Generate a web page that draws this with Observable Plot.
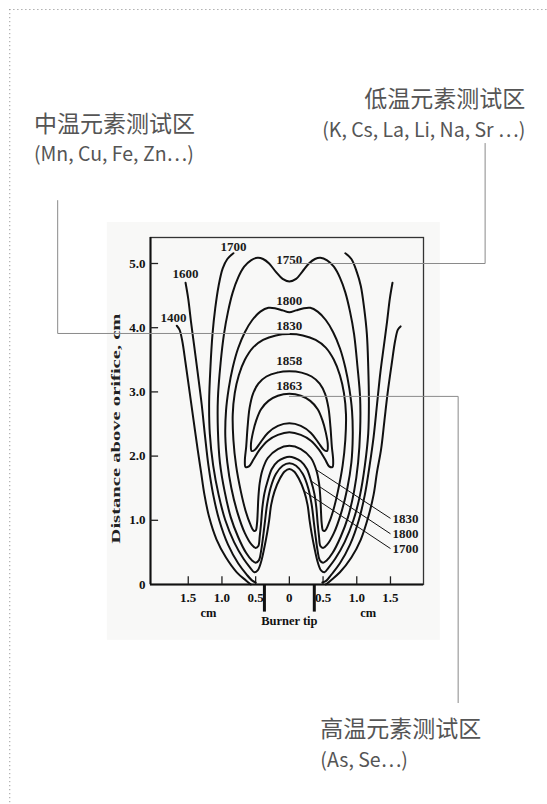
<!DOCTYPE html>
<html><head><meta charset="utf-8">
<script src="https://cdn.jsdelivr.net/npm/d3@7"></script>
<script src="https://cdn.jsdelivr.net/npm/@observablehq/plot@0.6"></script>
<style>
html,body{margin:0;padding:0;background:#fff;}
#chart{position:relative;width:547px;height:804px;overflow:hidden;}
</style></head><body><div id="chart"></div>
<script>
// ---------- DATA (cm; x = horizontal distance from burner axis, y = distance above orifice) ----------
const xTicks = [-1.5, -1, -0.5, 0, 0.5, 1, 1.5];
const xTickLabels = ["1.5", "1.0", "0.5", "0", "0.5", "1.0", "1.5"];
const yTicks = [0, 1, 2, 3, 4, 5];
const yTickLabels = ["0", "1.0", "2.0", "3.0", "4.0", "5.0"];
const burnerTip = [-0.37, 0.37];

// open contours
const c1400L = [[-1.67,4.03],[-1.63,3.97],[-1.59,3.8],[-1.54,3.45],[-1.48,3.0],[-1.42,2.55],[-1.36,2.1],[-1.31,1.75],[-1.26,1.4],[-1.19,1.05],[-1.08,0.7],[-0.94,0.42],[-0.78,0.19],[-0.64,0.06],[-0.57,0.0]];
const c1400R = [[0.54,0.0],[0.61,0.06],[0.75,0.19],[0.92,0.42],[1.06,0.7],[1.17,1.05],[1.25,1.4],[1.3,1.75],[1.36,2.1],[1.41,2.55],[1.46,3.0],[1.52,3.45],[1.57,3.8],[1.61,3.97],[1.65,4.02]];
const c1600L = [[-1.54,4.7],[-1.5,4.45],[-1.46,4.1],[-1.41,3.7],[-1.36,3.3],[-1.3,2.8],[-1.25,2.3],[-1.2,1.85],[-1.13,1.4],[-1.04,1.0],[-0.91,0.62],[-0.76,0.33],[-0.63,0.15],[-0.55,0.06],[-0.5,0.03]];
const c1600R = [[0.49,0.03],[0.55,0.06],[0.62,0.15],[0.75,0.33],[0.9,0.62],[1.03,1.0],[1.12,1.4],[1.19,1.85],[1.25,2.3],[1.3,2.8],[1.35,3.3],[1.4,3.7],[1.45,4.1],[1.49,4.45],[1.53,4.7]];
const c1700 = [[-0.83,5.16],[-0.92,5.07],[-0.99,4.92],[-1.05,4.65],[-1.1,4.3],[-1.14,3.9],[-1.17,3.4],[-1.19,2.85],[-1.18,2.35],[-1.13,1.85],[-1.05,1.4],[-0.95,1.0],[-0.82,0.66],[-0.68,0.4],[-0.58,0.26],[-0.52,0.19],[-0.47,0.22],
  [-0.42,0.35],[-0.37,0.58],[-0.33,0.8],[-0.3,1.0],[-0.27,1.24],[-0.22,1.45],[-0.14,1.65],[-0.07,1.76],[0,1.8],
  [0.07,1.76],[0.14,1.65],[0.22,1.45],[0.27,1.24],[0.3,1.0],[0.33,0.8],[0.37,0.58],[0.42,0.35],[0.47,0.22],[0.52,0.19],
  [0.58,0.26],[0.68,0.4],[0.82,0.66],[0.95,1.0],[1.05,1.4],[1.12,1.85],[1.17,2.35],[1.18,2.85],[1.17,3.4],[1.15,3.9],[1.11,4.3],[1.06,4.65],[1.0,4.87],[0.92,5.07],[0.83,5.16]];

// closed contours
const c1750 = [[0,4.72],[-0.1,4.76],[-0.2,4.87],[-0.3,5.0],[-0.39,5.07],[-0.47,5.09],[-0.57,5.05],[-0.67,4.95],[-0.76,4.78],[-0.84,4.55],[-0.91,4.25],[-0.97,3.9],[-1.02,3.45],[-1.06,2.9],[-1.06,2.4],[-1.03,1.9],[-0.96,1.45],[-0.87,1.05],[-0.76,0.74],[-0.64,0.49],[-0.55,0.37],[-0.5,0.34],[-0.45,0.38],
  [-0.42,0.52],[-0.39,0.74],[-0.36,1.0],[-0.33,1.25],[-0.28,1.5],[-0.2,1.72],[-0.1,1.85],[0,1.89],
  [0.1,1.85],[0.2,1.72],[0.28,1.5],[0.33,1.25],[0.36,1.0],[0.39,0.74],[0.42,0.52],[0.45,0.38],[0.5,0.34],[0.55,0.37],[0.64,0.49],[0.76,0.74],[0.87,1.05],[0.96,1.45],[1.02,1.9],[1.05,2.4],[1.05,2.9],[1.01,3.4],[0.96,3.9],[0.9,4.25],[0.83,4.55],[0.75,4.78],[0.66,4.95],[0.56,5.05],[0.46,5.09],[0.38,5.07],[0.29,5.0],[0.19,4.87],[0.1,4.76]];
const c1800 = [[0,4.24],[-0.1,4.27],[-0.2,4.3],[-0.31,4.31],[-0.43,4.25],[-0.55,4.12],[-0.66,3.93],[-0.76,3.68],[-0.84,3.38],[-0.9,3.05],[-0.94,2.7],[-0.95,2.3],[-0.92,1.9],[-0.86,1.5],[-0.77,1.12],[-0.66,0.8],[-0.56,0.62],[-0.5,0.57],[-0.46,0.6],
  [-0.44,0.75],[-0.42,0.95],[-0.4,1.2],[-0.37,1.42],[-0.32,1.62],[-0.26,1.8],[-0.17,1.92],[-0.08,1.97],[0,1.99],
  [0.08,1.97],[0.17,1.92],[0.26,1.8],[0.32,1.62],[0.37,1.42],[0.4,1.2],[0.42,0.95],[0.44,0.75],[0.46,0.6],[0.5,0.57],[0.56,0.62],[0.66,0.8],[0.77,1.12],[0.86,1.5],[0.92,1.9],[0.94,2.3],[0.93,2.7],[0.89,3.05],[0.83,3.38],[0.75,3.68],[0.65,3.93],[0.54,4.12],[0.42,4.25],[0.31,4.31],[0.2,4.3],[0.1,4.27]];
const c1830 = [[0,3.9],[-0.2,3.88],[-0.39,3.81],[-0.54,3.69],[-0.66,3.5],[-0.75,3.26],[-0.81,2.98],[-0.84,2.65],[-0.83,2.25],[-0.79,1.85],[-0.72,1.45],[-0.65,1.15],[-0.58,0.94],[-0.53,0.84],[-0.5,0.84],
  [-0.48,0.95],[-0.47,1.12],[-0.46,1.35],[-0.44,1.58],[-0.4,1.78],[-0.32,1.97],[-0.17,2.11],[0,2.16],
  [0.17,2.11],[0.32,1.97],[0.4,1.78],[0.44,1.58],[0.46,1.35],[0.47,1.12],[0.48,0.95],[0.5,0.84],[0.53,0.84],[0.58,0.94],[0.65,1.15],[0.72,1.45],[0.79,1.85],[0.83,2.25],[0.84,2.65],[0.81,2.98],[0.75,3.26],[0.66,3.5],[0.54,3.69],[0.39,3.81],[0.2,3.88]];
const c1858 = [[0,3.32],[-0.18,3.3],[-0.34,3.24],[-0.46,3.13],[-0.54,2.97],[-0.59,2.75],[-0.62,2.45],[-0.64,2.15],[-0.66,1.93],[-0.65,1.83],[-0.6,1.84],[-0.53,1.95],[-0.44,2.1],[-0.32,2.24],[-0.17,2.33],[0,2.37],
  [0.17,2.33],[0.32,2.24],[0.44,2.1],[0.53,1.95],[0.59,1.84],[0.64,1.83],[0.65,1.93],[0.63,2.15],[0.61,2.45],[0.58,2.75],[0.53,2.97],[0.45,3.13],[0.33,3.24],[0.18,3.3]];
const c1863 = [[0,2.97],[-0.17,2.94],[-0.31,2.86],[-0.42,2.73],[-0.49,2.56],[-0.54,2.37],[-0.57,2.18],[-0.56,2.08],[-0.51,2.1],[-0.43,2.21],[-0.32,2.36],[-0.17,2.47],[0,2.51],
  [0.17,2.47],[0.32,2.36],[0.43,2.21],[0.51,2.1],[0.56,2.08],[0.57,2.18],[0.54,2.37],[0.49,2.56],[0.42,2.73],[0.31,2.86],[0.17,2.94]];

// contour labels
const topLabels = ["1700", "1600", "1400", "1750", "1800", "1830", "1858", "1863"];
const topLabelX = [-0.83, -1.54, -1.72, 0, 0, 0, 0, 0];
const topLabelY = [5.26, 4.84, 4.16, 5.06, 4.42, 4.03, 3.49, 3.10];
const coneLabels = ["1830", "1800", "1700"];
const coneLabelX = [1.50, 1.50, 1.50];
const coneLabelY = [1.03, 0.79, 0.56];
const conePointX = [0.41, 0.31, 0.21];
const conePointY = [1.78, 1.62, 1.46];

// annotations (Chinese captions)
const zoneTitles = ["中温元素测试区", "低温元素测试区", "高温元素测试区"];
const zoneElements = ["(Mn, Cu, Fe, Zn…)", "(K, Cs, La, Li, Na, Sr …)", "(As, Se…)"];
const zoneTextX = [-3.79, 3.50, 0.46];
const zoneTitleY = [7.16, 7.55, -2.26];
const zoneElemY = [6.69, 7.06, -2.75];
const zoneAnchor = ["start", "end", "start"];
const zoneLeaders = [
  [[-3.437, 5.98], [-3.437, 3.91], [0.0, 3.91]],
  [[2.904, 6.87], [2.904, 5.0], [0.04, 5.0]],
  [[2.504, -1.84], [2.504, 2.93], [0.0, 2.93]]
];

// ---------- BUILD ----------
const openSets = [["1400L", c1400L], ["1400R", c1400R], ["1600L", c1600L], ["1600R", c1600R], ["1700", c1700]];
const closedSets = [["1750", c1750], ["1800", c1800], ["1830", c1830], ["1858", c1858], ["1863", c1863]];
const toRows = sets => sets.flatMap(([id, pts]) => pts.map(([x, y]) => ({id, x, y})));
const openRows = toRows(openSets);
const closedRows = toRows(closedSets);
const xLab = new Map(xTicks.map((d, i) => [d, xTickLabels[i]]));
const yLab = new Map(yTicks.map((d, i) => [d, yTickLabels[i]]));
const xDomain = [-2.06, 1.99];
const yDomain = [0, 5.405];
const topLab = topLabels.map((t, i) => ({t, x: topLabelX[i], y: topLabelY[i]}));
const coneLab = coneLabels.map((t, i) => ({t, x: coneLabelX[i], y: coneLabelY[i], px: conePointX[i], py: conePointY[i]}));
const zones = zoneTitles.map((t, i) => ({t, e: zoneElements[i], x: zoneTextX[i], ty: zoneTitleY[i], ey: zoneElemY[i], a: zoneAnchor[i]}));
const zonesStart = zones.filter(d => d.a === "start");
const zonesEnd = zones.filter(d => d.a === "end");
const leaderRows = zoneLeaders.flatMap((pts, i) => pts.map(([x, y]) => ({id: i, x, y})));
const serif = "Liberation Serif, Times New Roman, serif";
const cjk = "Noto Sans CJK SC, Noto Sans, sans-serif";
const zoneText = (data, anchor) => [
  Plot.text(data, {x: "x", y: "ty", text: "t", textAnchor: anchor, fontSize: 23, fontFamily: cjk, fill: "#555"}),
  Plot.text(data, {x: "x", y: "ey", text: "e", textAnchor: anchor, fontSize: 19.5, fontFamily: cjk, fill: "#555"})
];

const chart = Plot.plot({
  width: 547, height: 804,
  marginLeft: 150, marginRight: 124, marginTop: 237, marginBottom: 220,
  x: {domain: xDomain},
  y: {domain: yDomain},
  style: {background: "transparent", overflow: "visible", color: "#111"},
  marks: [
    // page border (dotted) and scan background
    Plot.ruleY([8.956], {x1: -4.148, x2: 3.83, stroke: "#9a9a9a", strokeDasharray: "1.2,2.8", strokeWidth: 1}),
    Plot.ruleX([-4.148], {y1: 8.956, y2: -7.0, stroke: "#9a9a9a", strokeDasharray: "1.2,2.8", strokeWidth: 1}),
    Plot.rect([0], {x1: -2.70, x2: 2.24, y1: -0.87, y2: 5.64, fill: "#f8f8f7"}),
    Plot.frame({stroke: "#333", strokeWidth: 1.3}),
    Plot.ruleX([xDomain[0]], {stroke: "#111", strokeWidth: 2}),
    Plot.ruleY([0], {stroke: "#111", strokeWidth: 2}),
    // inward ticks
    Plot.ruleX(xTicks, {x: d => d, y1: 0, y2: 0.12, stroke: "#222", strokeWidth: 1.3}),
    Plot.ruleY(yTicks.filter(d => d > 0), {y: d => d, x1: xDomain[0], x2: xDomain[0] + 0.12, stroke: "#222", strokeWidth: 1.3}),
    Plot.axisX({ticks: xTicks, tickSize: 0, tickPadding: 8, tickFormat: d => xLab.get(d), label: null,
      fontSize: 13, fontWeight: "bold", fontFamily: serif}),
    Plot.axisY({ticks: yTicks, tickSize: 0, tickPadding: 5, tickFormat: d => yLab.get(d), label: null,
      fontSize: 13, fontWeight: "bold", fontFamily: serif}),
    Plot.text(["cm", "cm"], {x: [-1.2, 1.17], y: [-0.45, -0.45], text: d => d, fontSize: 12.5, fontWeight: "bold", fontFamily: serif, fill: "#111"}),
    Plot.text(["Burner tip"], {x: 0, y: -0.57, text: d => d, fontSize: 12.5, fontWeight: "bold", fontFamily: serif, fill: "#111"}),
    Plot.ruleX(burnerTip, {x: d => d, y1: 0, y2: -0.43, stroke: "#111", strokeWidth: 3}),
    Plot.text(["Distance above orifice, cm"], {x: -2.578, y: 2.43, rotate: -90, text: d => d, fontSize: 13, fontWeight: "bold", fontFamily: serif, fill: "#222"}),
    // contours
    Plot.line(openRows, {x: "x", y: "y", z: "id", curve: "catmull-rom", stroke: "#111", strokeWidth: 2}),
    Plot.line(closedRows, {x: "x", y: "y", z: "id", curve: "catmull-rom-closed", stroke: "#111", strokeWidth: 2}),
    // contour labels
    Plot.text(topLab, {x: "x", y: "y", text: "t", fontSize: 13, fontWeight: "bold", fontFamily: serif, fill: "#1a1a1a"}),
    Plot.link(coneLab, {x1: "x", y1: "y", x2: "px", y2: "py", stroke: "#111", strokeWidth: 1}),
    Plot.text(coneLab, {x: "x", y: "y", text: "t", textAnchor: "start", dx: 2, fontSize: 13, fontWeight: "bold", fontFamily: serif, fill: "#1a1a1a"}),
    // zone annotations
    Plot.line(leaderRows, {x: "x", y: "y", z: "id", stroke: "#8a8a8a", strokeWidth: 1}),
    ...zoneText(zonesStart, "start"),
    ...zoneText(zonesEnd, "end")
  ]
});
document.getElementById("chart").append(chart);
d3.select(chart).selectAll("text").each(function () {
  if (this.textContent === "Distance above orifice, cm") {
    this.setAttribute("textLength", 230);
    this.setAttribute("lengthAdjust", "spacingAndGlyphs");
  }
});
</script>
</body></html>
